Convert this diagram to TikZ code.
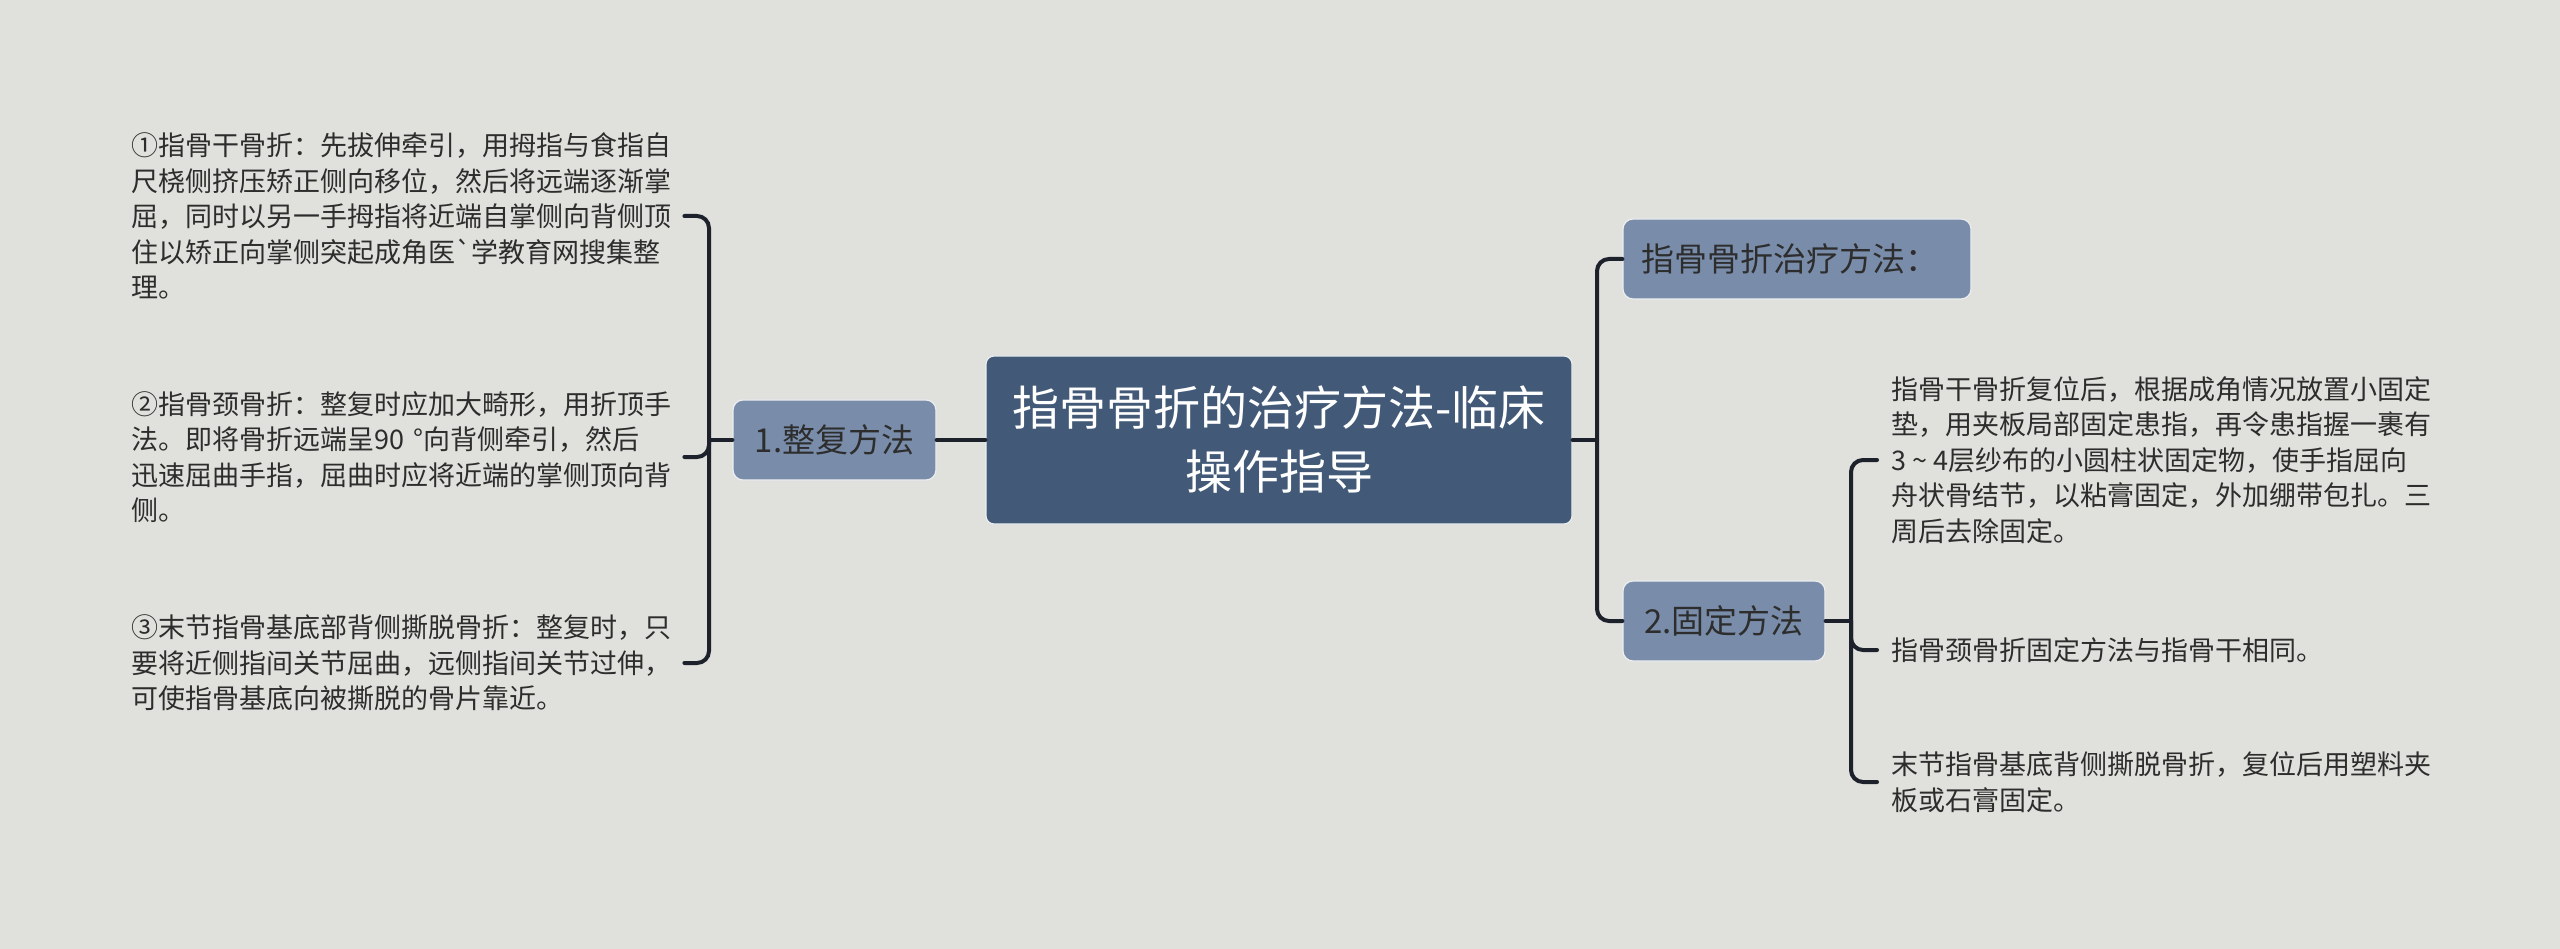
\documentclass[tikz,border=0pt]{standalone}
\usepackage{fontspec}
\setmainfont{Noto Sans CJK SC}[Ligatures=TeXOff]
\definecolor{bg}{RGB}{224,225,220}
\definecolor{rootfill}{RGB}{66,90,120}
\definecolor{subfill}{RGB}{121,141,171}
\definecolor{linec}{RGB}{28,33,44}
\definecolor{txt}{RGB}{45,45,45}
\definecolor{edge}{RGB}{236,238,240}
\begin{document}
\begin{tikzpicture}[x=1pt,y=-1pt,
  root/.style={fill=rootfill, draw=edge, line width=1.2pt, rounded corners=8pt,
    minimum width=586pt, minimum height=168pt, text=white, align=center,
    font=\fontsize{47}{64}\selectfont, inner sep=0pt},
  sub/.style={fill=subfill, draw=edge, line width=1.2pt, rounded corners=10pt,
    minimum height=80pt, text=txt, font=\fontsize{33}{40}\selectfont, inner sep=0pt},
  leafl/.style={text=txt, font=\fontsize{27}{35.5}\selectfont, align=left,
    inner sep=0pt, text width=553pt, anchor=west},
  leafr/.style={text=txt, font=\fontsize{27}{35.5}\selectfont, align=left,
    inner xsep=14pt, inner ysep=0pt, anchor=west},
  conn/.style={draw=linec, line width=4pt, rounded corners=12pt, line cap=round}
]
\fill[bg] (0,0) rectangle (2560,949);
\useasboundingbox (0,0) rectangle (2560,949);

% nodes
\node[root] (root) at (1279,440) {指骨骨折的治疗方法-临床\\操作指导};
\node[sub, minimum width=203pt] (n1) at (834.5,440) {1.整复方法};
\node[sub, inner xsep=18pt, text width=312pt, align=left] (s1) at (1797,259) {指骨骨折治疗方法：};
\node[sub, minimum width=202pt] (s2) at (1724,621) {2.固定方法};

\node[leafl] (t1) at (131,216) {①指骨干骨折：先拔伸牵引，用拇指与食指自\\尺桡侧挤压矫正侧向移位，然后将远端逐渐掌\\屈，同时以另一手拇指将近端自掌侧向背侧顶\\住以矫正向掌侧突起成角医`学教育网搜集整\\理。};
\node[leafl] (t2) at (131,457) {②指骨颈骨折：整复时应加大畸形，用折顶手\\法。即将骨折远端呈90 °向背侧牵引，然后\\迅速屈曲手指，屈曲时应将近端的掌侧顶向背\\侧。};
\node[leafl] (t3) at (131,663) {③末节指骨基底部背侧撕脱骨折：整复时，只\\要将近侧指间关节屈曲，远侧指间关节过伸，\\可使指骨基底向被撕脱的骨片靠近。};

\node[leafr] (r1) at (1877,460) {指骨干骨折复位后，根据成角情况放置小固定\\垫，用夹板局部固定患指，再令患指握一裹有\\3 \symbol{"7E} 4层纱布的小圆柱状固定物，使手指屈向\\舟状骨结节，以粘膏固定，外加绷带包扎。三\\周后去除固定。};
\node[leafr] (r2) at (1877,650) {指骨颈骨折固定方法与指骨干相同。};
\node[leafr] (r3) at (1877,782) {末节指骨基底背侧撕脱骨折，复位后用塑料夹\\板或石膏固定。};

% connectors
\coordinate (jl) at (709,440);
\coordinate (jr) at (1597,440);
\coordinate (jr2) at (1851,621);
\draw[conn] (n1.west) -- (jl);
\draw[conn] (jl) |- (t1.east);
\draw[conn] (jl) |- (t2.east);
\draw[conn] (jl) |- (t3.east);
\draw[conn] (root.west) -- (n1.east);
\draw[conn] (root.east) -- (jr);
\draw[conn] (jr) |- (s1.west);
\draw[conn] (jr) |- (s2.west);
\draw[conn] (s2.east) -- (jr2);
\draw[conn] (jr2) |- (r1.west);
\draw[conn] (jr2) |- (r2.west);
\draw[conn] (jr2) |- (r3.west);
\end{tikzpicture}
\end{document}
